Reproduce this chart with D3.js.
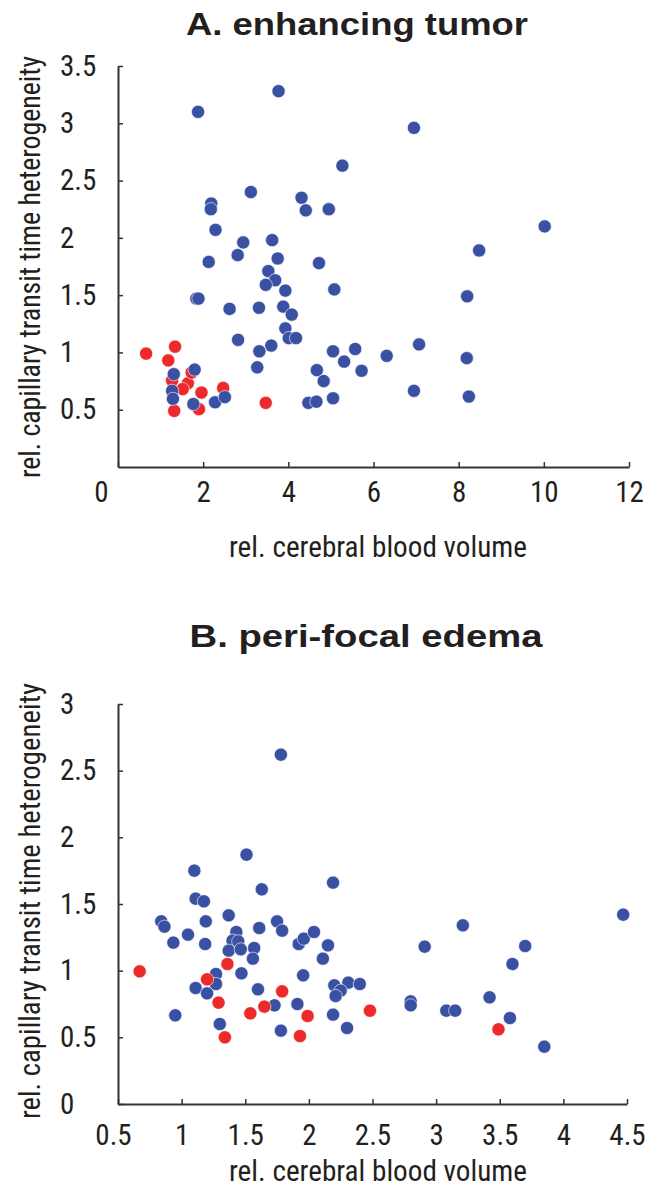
<!DOCTYPE html>
<html>
<head>
<meta charset="utf-8">
<script src="https://cdn.jsdelivr.net/npm/d3@7/dist/d3.min.js"></script>
<style>
  body { margin: 0; background: #fff; }
  svg text { fill: #231f20; }
  .narrow { font-family: "Liberation Sans Narrow", "Arial Narrow", "Roboto Condensed", sans-serif; }
  .title { font-family: "Liberation Sans", Arial, sans-serif; font-weight: bold; }
</style>
</head>
<body>
<div id="chart"></div>
<script>
// A. enhancing tumor  (rCBV, rCTH)
var tumorBlue = [
  [1.88,3.10],[3.77,3.28],[3.12,2.40],[4.31,2.35],[4.41,2.24],[2.19,2.30],[2.18,2.25],
  [2.29,2.07],[2.94,1.96],[3.62,1.98],[2.81,1.85],[3.75,1.82],[2.13,1.79],[3.53,1.71],
  [3.69,1.63],[3.47,1.59],[3.93,1.54],[1.84,1.47],[1.89,1.47],[2.62,1.38],[3.31,1.39],
  [3.88,1.40],[4.08,1.33],[3.93,1.21],[4.01,1.125],[4.18,1.125],[2.82,1.11],[3.32,1.01],
  [3.60,1.06],[3.27,0.87],[1.80,0.85],[1.31,0.81],[1.27,0.665],[1.29,0.595],[1.77,0.55],
  [2.28,0.565],[2.51,0.61],[4.47,0.56],[6.95,2.96],[5.27,2.63],[4.95,2.25],[10.02,2.10],
  [8.48,1.89],[4.72,1.78],[5.08,1.55],[8.20,1.49],[5.05,1.01],[5.57,1.03],[5.31,0.92],
  [6.31,0.97],[7.07,1.07],[8.19,0.95],[5.72,0.84],[4.67,0.845],[4.83,0.75],[4.66,0.57],
  [5.05,0.60],[6.95,0.665],[8.24,0.615]
];
var tumorRed = [
  [0.66,0.99],[1.18,0.93],[1.34,1.05],[1.27,0.755],[1.64,0.73],[1.52,0.68],[1.73,0.825],
  [1.96,0.65],[2.47,0.69],[1.32,0.49],[1.90,0.505],[3.47,0.56]
];

// B. peri-focal edema
var edemaBlue = [
  [1.78,2.62],[1.51,1.87],[1.10,1.75],[1.63,1.61],[1.11,1.54],[1.175,1.52],[0.84,1.37],
  [0.865,1.33],[1.19,1.37],[1.37,1.415],[1.05,1.27],[0.935,1.21],[1.185,1.20],[1.43,1.29],
  [1.40,1.225],[1.445,1.22],[1.37,1.15],[1.465,1.16],[1.61,1.32],[1.57,1.17],[1.56,1.09],
  [1.75,1.37],[1.79,1.30],[1.92,1.20],[1.96,1.24],[2.04,1.29],[2.11,1.09],[1.955,0.965],
  [1.27,0.975],[1.27,0.90],[1.11,0.87],[1.20,0.83],[1.47,0.98],[1.60,0.86],[1.73,0.74],
  [1.91,0.75],[0.95,0.665],[1.30,0.60],[1.78,0.55],[2.19,1.66],[4.47,1.42],[3.21,1.34],
  [2.15,1.19],[2.91,1.18],[3.70,1.185],[3.60,1.05],[2.20,0.89],[2.31,0.91],[2.40,0.90],
  [2.25,0.85],[2.21,0.81],[2.80,0.77],[2.80,0.74],[3.08,0.70],[3.15,0.70],[3.42,0.80],
  [3.58,0.645],[3.85,0.43],[2.19,0.67],[2.30,0.57]
];
var edemaRed = [
  [0.67,0.995],[1.36,1.05],[1.20,0.935],[1.29,0.76],[1.54,0.68],[1.65,0.73],[1.79,0.845],
  [1.99,0.66],[1.93,0.51],[1.34,0.50],[2.48,0.70],[3.49,0.56]
];

var tumorXTicks = [0, 2, 4, 6, 8, 10, 12];
var tumorYTicks = [0.5, 1, 1.5, 2, 2.5, 3, 3.5];
var edemaXTicks = [0.5, 1, 1.5, 2, 2.5, 3, 3.5, 4, 4.5];
var edemaYTicks = [0, 0.5, 1, 1.5, 2, 2.5, 3];

var xLabel = "rel. cerebral blood volume";
var yLabel = "rel. capillary transit time heterogeneity";

var blue = "#3a51a3", red = "#ec2a2b", axisColor = "#333";

var svg = d3.select("#chart").append("svg")
    .attr("width", 645)
    .attr("height", 1187);

function panel(cfg) {
    var x = d3.scaleLinear().domain(cfg.xDomain).range([118, cfg.xRight]);
    var y = d3.scaleLinear().domain(cfg.yDomain).range([cfg.bottom, cfg.top]);

    // title
    svg.append("text").attr("class", "title")
        .attr("x", cfg.titleX).attr("y", cfg.titleY)
        .attr("text-anchor", "middle")
        .attr("font-size", 32)
        .attr("textLength", cfg.titleLen)
        .attr("lengthAdjust", "spacingAndGlyphs")
        .text(cfg.title);

    var xAxis = svg.append("g")
        .attr("transform", "translate(0," + cfg.bottom + ")")
        .call(d3.axisBottom(x).tickValues(cfg.xTicks).tickSizeInner(-5).tickSizeOuter(0)
            .tickPadding(cfg.xPad).tickFormat(d3.format("")));
    var yAxis = svg.append("g")
        .attr("transform", "translate(118,0)")
        .call(d3.axisLeft(y).tickValues(cfg.yTicks).tickSizeInner(-5).tickSizeOuter(0)
            .tickFormat(d3.format("")));

    [xAxis, yAxis].forEach(function(g) {
        g.select(".domain").attr("stroke", axisColor).attr("stroke-width", 2);
        g.selectAll(".tick line").attr("stroke", axisColor).attr("stroke-width", 1.5);
        g.selectAll(".tick text").attr("class", "narrow").attr("font-size", 29)
            .attr("fill", "#231f20");
    });
    yAxis.selectAll(".tick text").attr("text-anchor", "start").attr("x", -58);
    xAxis.selectAll(".tick text").attr("dx", function(d, i) { return i === 0 ? cfg.firstDx : 0; });

    // axis titles
    svg.append("text").attr("class", "narrow")
        .attr("x", 378).attr("y", cfg.xLabelY)
        .attr("text-anchor", "middle").attr("font-size", 29)
        .attr("textLength", 298).attr("lengthAdjust", "spacingAndGlyphs")
        .text(xLabel);
    svg.append("text").attr("class", "narrow")
        .attr("transform", "translate(40," + cfg.yLabelMid + ") rotate(-90)")
        .attr("text-anchor", "middle").attr("font-size", 29)
        .attr("textLength", cfg.yLabelLen).attr("lengthAdjust", "spacingAndGlyphs")
        .text(yLabel);

    // points
    cfg.layers.forEach(function(layer) {
        svg.append("g").selectAll("circle").data(layer.data).enter().append("circle")
            .attr("cx", function(d) { return x(d[0]); })
            .attr("cy", function(d) { return y(d[1]); })
            .attr("r", 6.6)
            .attr("fill", layer.color)
            .attr("stroke", "#fff")
            .attr("stroke-width", 0.6);
    });
}

panel({
    title: "A. enhancing tumor", titleX: 357, titleY: 35, titleLen: 342,
    xDomain: [0, 12], yDomain: [0, 3.5], xRight: 629, top: 66, bottom: 467,
    xTicks: tumorXTicks, yTicks: tumorYTicks, xPad: 14, firstDx: -17,
    xLabelY: 557, yLabelMid: 267, yLabelLen: 422,
    layers: [{data: tumorRed, color: red}, {data: tumorBlue, color: blue}]
});

panel({
    title: "B. peri-focal edema", titleX: 366, titleY: 647, titleLen: 353,
    xDomain: [0.5, 4.5], yDomain: [0, 3], xRight: 627, top: 704, bottom: 1104,
    xTicks: edemaXTicks, yTicks: edemaYTicks, xPad: 20, firstDx: -5,
    xLabelY: 1181, yLabelMid: 901, yLabelLen: 436,
    layers: [{data: edemaBlue, color: blue}, {data: edemaRed, color: red}]
});
</script>
</body>
</html>
